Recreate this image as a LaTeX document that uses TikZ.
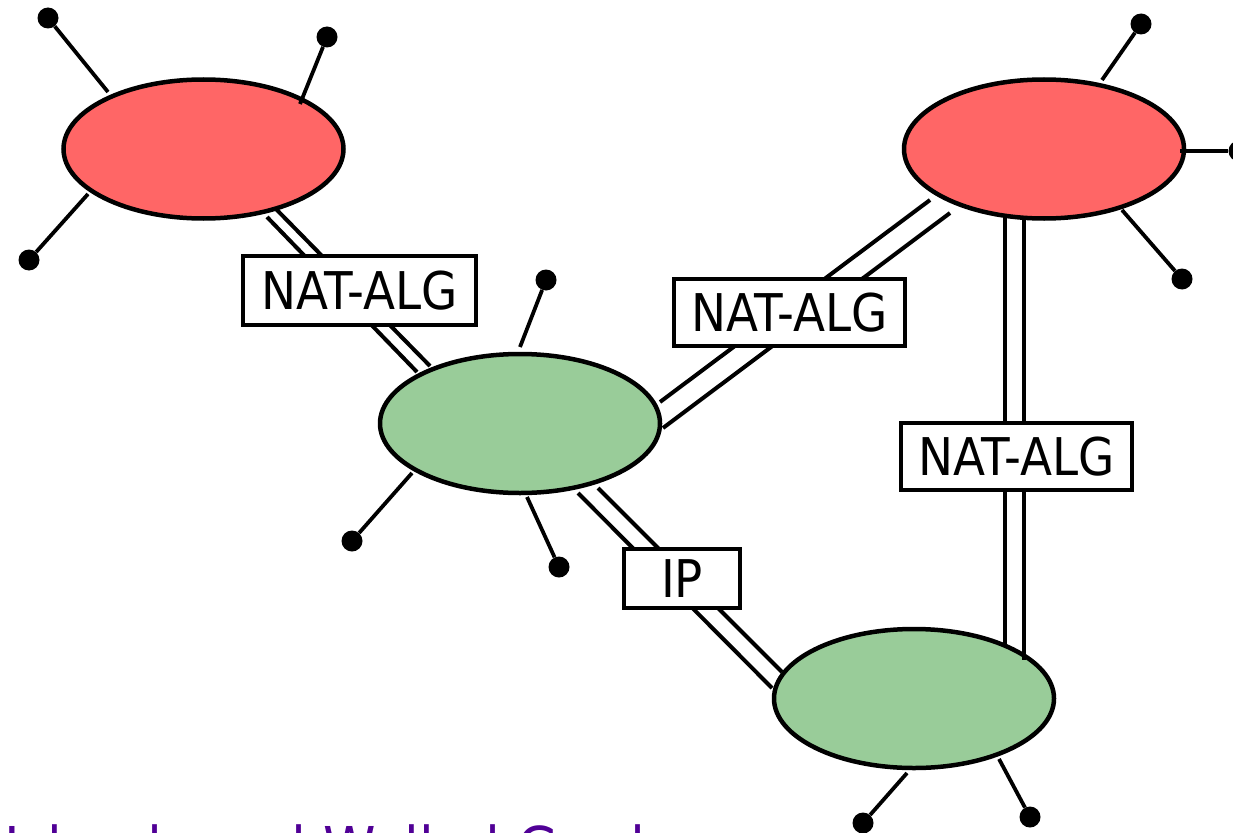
\documentclass[tikz,border=0pt]{standalone}
\usepackage{fontspec}
\setmainfont{DejaVu Sans Condensed}
\usetikzlibrary{shapes.geometric}
\definecolor{redfill}{HTML}{FF6666}
\definecolor{greenfill}{HTML}{99CC99}
\definecolor{titlepurple}{RGB}{80,0,150}
\begin{document}
\begin{tikzpicture}[x=1pt,y=-1pt,
  cloud/.style={ellipse,draw=black,line width=4.5pt,minimum width=280,minimum height=139,inner sep=0pt},
  redcloud/.style={cloud,fill=redfill},
  greencloud/.style={cloud,fill=greenfill},
  dot/.style={circle,fill=black,minimum size=21,inner sep=0pt},
  wire/.style={line width=3.8pt},
  linkline/.style={line width=4pt},
  label/.style={draw=black,fill=white,line width=4pt,inner sep=0pt,font=\fontsize{52}{56}\selectfont},
]
\useasboundingbox (0,0) rectangle (1233,832);

% clouds
\node[redcloud] (tl) at (203.5,149) {};
\node[redcloud] (tr) at (1044,149) {};
\node[greencloud] (mid) at (520,423.5) {};
\node[greencloud] (bot) at (914,698.5) {};

% antenna ends
\node[dot] (p1) at (48,18) {};
\node[dot] (p2) at (327,37) {};
\node[dot] (p3) at (29,260) {};
\node[dot] (q1) at (1141,24) {};
\node[dot] (q2) at (1239,151) {};
\node[dot] (q3) at (1182,279) {};
\node[dot] (r1) at (546,280) {};
\node[dot] (r2) at (352,541) {};
\node[dot] (r3) at (559,567) {};
\node[dot] (s1) at (863,823) {};
\node[dot] (s2) at (1030,817) {};

\coordinate (a1) at (108,92);
\coordinate (a2) at (300,104);
\coordinate (a3) at (88,194);
\coordinate (b1) at (1102,80);
\coordinate (b2) at (1180,151);
\coordinate (b3) at (1122,210);
\coordinate (c1) at (520,347);
\coordinate (c2) at (412,473);
\coordinate (c3) at (527,497);
\coordinate (d1) at (907,773);
\coordinate (d2) at (999,759);

\draw[wire] (a1) -- (p1);
\draw[wire] (a2) -- (p2);
\draw[wire] (a3) -- (p3);
\draw[wire] (b1) -- (q1);
\draw[wire] (b2) -- (q2);
\draw[wire] (b3) -- (q3);
\draw[wire] (c1) -- (r1);
\draw[wire] (c2) -- (r2);
\draw[wire] (c3) -- (r3);
\draw[wire] (d1) -- (s1);
\draw[wire] (d2) -- (s2);

% double links
\coordinate (l1a) at (267,217); \coordinate (l1b) at (417,372);
\coordinate (l1c) at (275,208); \coordinate (l1d) at (430,366);
\draw[linkline] (l1a) -- (l1b);
\draw[linkline] (l1c) -- (l1d);

\coordinate (l2a) at (660,402); \coordinate (l2b) at (930,200);
\coordinate (l2c) at (663,428); \coordinate (l2d) at (950,213);
\draw[linkline] (l2a) -- (l2b);
\draw[linkline] (l2c) -- (l2d);

\coordinate (l3a) at (1005,218); \coordinate (l3b) at (1005,647);
\coordinate (l3c) at (1024,219); \coordinate (l3d) at (1024,660);
\draw[linkline] (l3a) -- (l3b);
\draw[linkline] (l3c) -- (l3d);

\coordinate (l4a) at (578,493); \coordinate (l4b) at (772,688);
\coordinate (l4c) at (598,488); \coordinate (l4d) at (782,672);
\draw[linkline] (l4a) -- (l4b);
\draw[linkline] (l4c) -- (l4d);

% labels
\node[label,minimum width=233,minimum height=69] (n1) at (359.5,290.5) {NAT-ALG};
\node[label,minimum width=231,minimum height=67] (n2) at (789.5,312.5) {NAT-ALG};
\node[label,minimum width=231,minimum height=67] (n3) at (1016.5,456.5) {NAT-ALG};
\node[label,minimum width=116,minimum height=59] (ip) at (682,578.5) {IP};

% title (cut off at the bottom, as in the reference)
\node[anchor=base west,inner sep=0pt,text=titlepurple,font=\fontsize{59}{64}\selectfont] (title) at (4,869) {Islands and Walled Gardens};
\end{tikzpicture}
\end{document}
